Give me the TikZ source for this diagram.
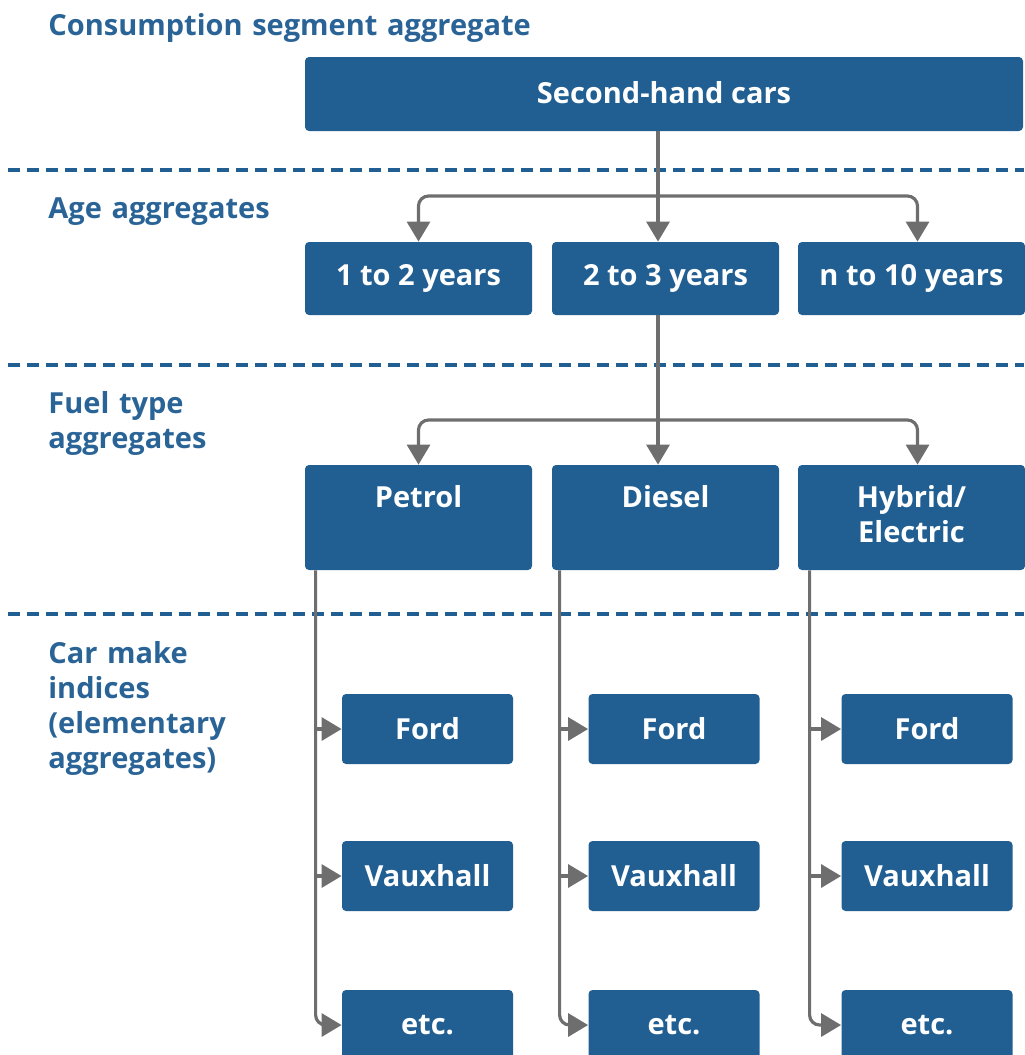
\documentclass[tikz,border=0pt]{standalone}
\usepackage{fontspec}
\setmainfont{Open Sans}
\usetikzlibrary{arrows.meta,positioning,calc}
\definecolor{boxblue}{HTML}{215F93}
\definecolor{headblue}{HTML}{2A6497}
\definecolor{linkgrey}{HTML}{6E6E6E}
\newcommand{\carfont}{\fontsize{14.5}{17.5}\selectfont\bfseries}

\begin{document}
\begin{tikzpicture}[x=0.5pt,y=-0.5pt,
    blk/.style={fill=boxblue,rounded corners=2pt,inner sep=0pt,text=white,font=\carfont},
    lvl/.style={anchor=base west,inner sep=0pt,text width=300pt,align=left,text=headblue,font=\carfont},
    ftxt/.style={anchor=base,inner sep=0pt,text width=110pt,align=center,text=white,font=\carfont},
    sep/.style={boxblue,line width=1.6pt,dash pattern=on 6pt off 3.5pt},
    link/.style={linkgrey,line width=1.6pt,rounded corners=5pt},
    tip/.style={-{Triangle[width=11.5pt,length=10pt]}}]
    \useasboundingbox (0,0) rectangle (1024,1055);
    % level separators and headings
    \foreach \y in {170,365,614} { \draw[sep] (8,\y) -- (1024,\y); }
    \node[lvl] (hcons) at (48,35) {Consumption segment aggregate};
    \node[lvl] (hage) at (48,218) {Age aggregates};
    \node[lvl] (hfuel) at (48,413) {Fuel type\\aggregates};
    \node[lvl] (hmake) at (48,663) {Car make\\indices\\(elementary\\aggregates)};
    % boxes
    \node[blk,minimum width=359pt,minimum height=37pt] (cars) at (664,94) {\raisebox{2pt}{Second-hand cars}};
    \node[blk,minimum width=113.5pt,minimum height=36.5pt] (age1) at (418.5,278.5) {1 to 2 years};
    \node[blk,minimum width=113.5pt,minimum height=36.5pt] (age2) at (665.5,278.5) {2 to 3 years};
    \node[blk,minimum width=113.5pt,minimum height=36.5pt] (age3) at (911.5,278.5) {n to 10 years};
    \foreach \c/\x in {1/418.5,2/665.5,3/911.5} {
      \node[blk,minimum width=113.5pt,minimum height=52.5pt] (fuel\c) at (\x,517.5) {};
    }
    \node[ftxt] (tpetrol) at (fuel1 |- 0,507) {Petrol};
    \node[ftxt] (tdiesel) at (fuel2 |- 0,507) {Diesel};
    \node[ftxt] (thybrid) at (fuel3 |- 0,507) {Hybrid/\\Electric};
    \foreach \c/\x in {1/427.5,2/674,3/927} {
      \node[blk,minimum width=85.5pt,minimum height=35pt] (ford\c) at (\x,729) {Ford};
      \node[blk,minimum width=85.5pt,minimum height=35pt] (vaux\c) at (\x,876) {Vauxhall};
      \node[blk,minimum width=85.5pt,minimum height=35pt] (etc\c) at (\x,1025) {etc.};
    }
    % connectors
    \coordinate (hub1) at (658,196);
    \coordinate (hub2) at (658,420);
    \draw[link,tip] (hub1 |- cars.south) -- (hub1 |- age2.north);
    \draw[link,tip] (hub1) -| (age1.north);
    \draw[link,tip] (hub1) -| ([xshift=3pt]age3.north);
    \draw[link,tip] (hub2 |- age2.south) -- (hub2 |- fuel2.north);
    \draw[link,tip] (hub2) -| (age1.north |- fuel1.north);
    \draw[link,tip] (hub2) -| ([xshift=3pt]fuel3.north);
    \foreach \c/\dx in {1/5.5pt,2/4pt,3/6pt} {
      \draw[link,tip] ([xshift=\dx]fuel\c.south west) |- (etc\c.west);
      \draw[link,tip] ([xshift=\dx]fuel\c.south west |- ford\c.west) -- (ford\c.west);
      \draw[link,tip] ([xshift=\dx]fuel\c.south west |- vaux\c.west) -- (vaux\c.west);
    }
\end{tikzpicture}
\end{document}
